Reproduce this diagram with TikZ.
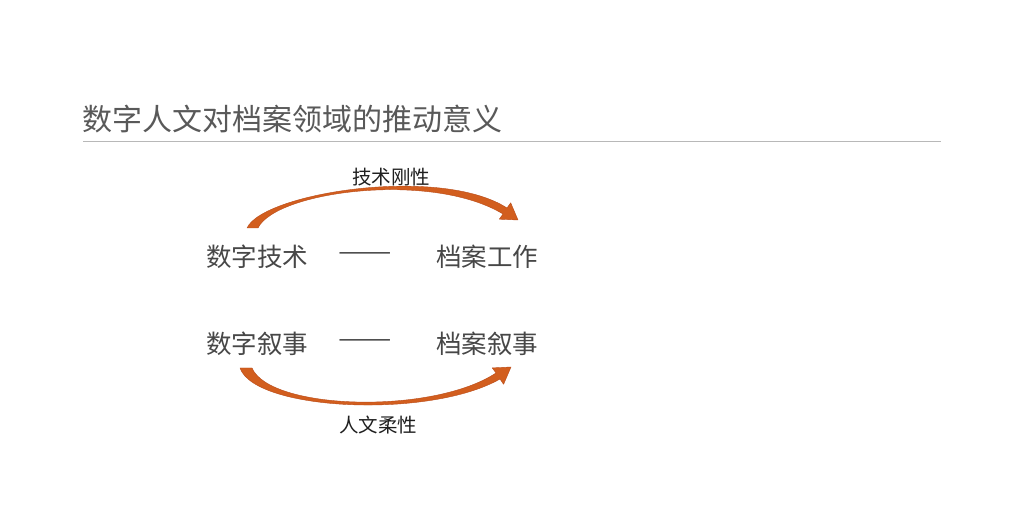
\documentclass[tikz,border=0pt]{standalone}
\usepackage{fontspec}
\setmainfont{Noto Sans CJK SC}
\begin{document}
\begin{tikzpicture}[x=1pt,y=-1pt,
  title/.style={font=\fontsize{30}{30}\selectfont, text=black!65, inner sep=0pt, anchor=west},
  term/.style={font=\fontsize{25.5}{25.5}\selectfont, text=black!72, inner sep=0pt},
  lbl/.style={font=\fontsize{19.5}{19.5}\selectfont, text=black!88, inner sep=0pt},
  arrowbody/.style={fill={rgb,255:red,210;green,94;blue,30}, draw={rgb,255:red,185;green,75;blue,25}, line width=0.4pt, line join=round}]
\useasboundingbox (0,0) rectangle (1015,518);
\fill[white] (0,0) rectangle (1015,518);
% title and rule
\node[title] (title) at (82,119) {数字人文对档案领域的推动意义};
\coordinate (ruleL) at (83,141);
\coordinate (ruleR) at (941,141);
\draw[black!28, line width=0.9pt] (ruleL) -- (ruleR);
% terms
\node[term] (dt) at (257,257) {数字技术};
\node[term, xscale=1.25] (d1) at (365,257) {——};
\node[term] (aw) at (487,257) {档案工作};
\node[term] (dn) at (257,344) {数字叙事};
\node[term, xscale=1.25] (d2) at (365,344) {——};
\node[term] (an) at (487,344) {档案叙事};
% labels
\node[lbl] (l1) at (391,177) {技术刚性};
\node[lbl] (l2) at (378,425) {人文柔性};
% top curved arrow
\path[arrowbody] (247,228) .. controls (263,193) and (440,165) .. (507,208)
  -- (510.7,202.8) -- (518,220) -- (499.3,219.2) -- (503,214)
  .. controls (432,171) and (276,191) .. (258,228) -- cycle;
% bottom curved arrow
\path[arrowbody] (240,368) .. controls (255,411) and (430,419) .. (500,379)
  -- (503.6,384.3) -- (511,367) -- (492.2,367.9) -- (496,373)
  .. controls (432,415) and (270,410) .. (252,368) -- cycle;
\end{tikzpicture}
\end{document}
